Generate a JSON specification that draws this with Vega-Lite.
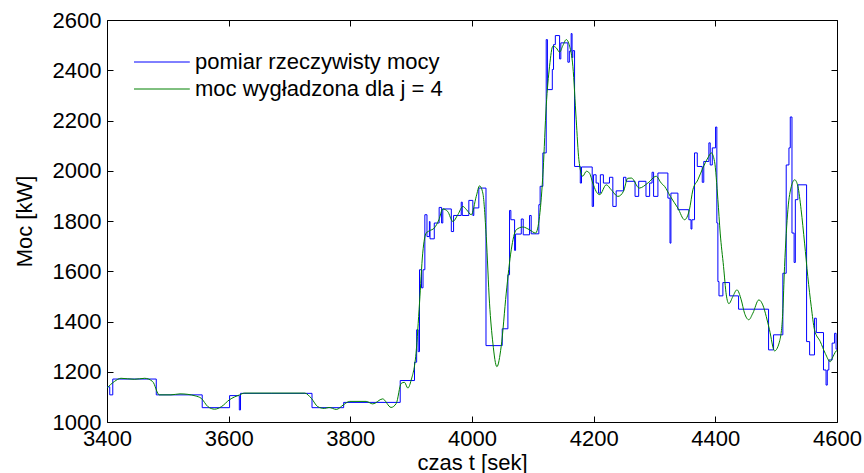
{
  "$schema": "https://vega.github.io/schema/vega-lite/v6.json",
  "width": 730,
  "height": 402,
  "autosize": "none",
  "padding": {"left": 107, "top": 20, "right": 27, "bottom": 51},
  "background": "white",
  "config": {
    "font": "Liberation Sans",
    "view": {"stroke": "black", "strokeWidth": 1},
    "axis": {
      "domain": false,
      "grid": false,
      "tickColor": "black",
      "tickSize": -6,
      "labelColor": "black",
      "labelFont": "Liberation Sans",
      "labelFontSize": 22,
      "labelFlush": false,
      "format": "d",
      "titleFont": "Liberation Sans",
      "titleFontSize": 22,
      "titleFontWeight": "normal",
      "titleColor": "black"
    },
    "legend": {
      "labelFont": "Liberation Sans",
      "labelFontSize": 22,
      "labelColor": "black",
      "labelLimit": 0
    }
  },
  "datasets": {
    "pomiar": [
      {"t": 3400, "P": 1140}, {"t": 3404.5, "P": 1108}, {"t": 3409.5, "P": 1171}, {"t": 3481, "P": 1108},
      {"t": 3556.5, "P": 1057}, {"t": 3601.5, "P": 1105}, {"t": 3617.5, "P": 1048}, {"t": 3619.5, "P": 1114},
      {"t": 3737, "P": 1057}, {"t": 3789, "P": 1078}, {"t": 3882, "P": 1165}, {"t": 3905.5, "P": 1238},
      {"t": 3909, "P": 1367}, {"t": 3911.5, "P": 1280}, {"t": 3913.7, "P": 1606}, {"t": 3917, "P": 1534},
      {"t": 3919.5, "P": 1606}, {"t": 3922.5, "P": 1825}, {"t": 3926, "P": 1738}, {"t": 3930, "P": 1798},
      {"t": 3931, "P": 1729}, {"t": 3938, "P": 1792}, {"t": 3946, "P": 1854}, {"t": 3950, "P": 1792},
      {"t": 3952, "P": 1848}, {"t": 3966, "P": 1758}, {"t": 3969.7, "P": 1822}, {"t": 3982.3, "P": 1875},
      {"t": 3984, "P": 1822}, {"t": 3994.8, "P": 1882}, {"t": 4001.4, "P": 1822}, {"t": 4003, "P": 1852},
      {"t": 4011.2, "P": 1931}, {"t": 4023, "P": 1304}, {"t": 4049.7, "P": 1371}, {"t": 4059, "P": 1586},
      {"t": 4061.7, "P": 1842}, {"t": 4063.9, "P": 1805}, {"t": 4070, "P": 1683}, {"t": 4071.6, "P": 1748},
      {"t": 4081, "P": 1808}, {"t": 4084.2, "P": 1745}, {"t": 4094.6, "P": 1822}, {"t": 4097.3, "P": 1749},
      {"t": 4109.9, "P": 1865}, {"t": 4112, "P": 1938}, {"t": 4116.5, "P": 2071}, {"t": 4122, "P": 2522},
      {"t": 4124, "P": 2323}, {"t": 4132, "P": 2403}, {"t": 4134, "P": 2502}, {"t": 4137, "P": 2538},
      {"t": 4144, "P": 2445}, {"t": 4146, "P": 2509}, {"t": 4157.6, "P": 2432}, {"t": 4160, "P": 2476},
      {"t": 4163, "P": 2546}, {"t": 4164.5, "P": 2450}, {"t": 4165.7, "P": 2478}, {"t": 4168.6, "P": 2017},
      {"t": 4178, "P": 1951}, {"t": 4180, "P": 2015}, {"t": 4197.6, "P": 1858}, {"t": 4199.8, "P": 1984},
      {"t": 4204, "P": 1951}, {"t": 4208, "P": 1911}, {"t": 4211, "P": 1984}, {"t": 4216, "P": 1951},
      {"t": 4226, "P": 1974}, {"t": 4231.5, "P": 1858}, {"t": 4237, "P": 1920}, {"t": 4249, "P": 1974},
      {"t": 4253, "P": 1958}, {"t": 4268, "P": 1898}, {"t": 4274, "P": 1958}, {"t": 4286, "P": 1898},
      {"t": 4292, "P": 1951}, {"t": 4296, "P": 1994}, {"t": 4298.5, "P": 1898}, {"t": 4305.6, "P": 1991},
      {"t": 4322, "P": 1891}, {"t": 4325.5, "P": 1712}, {"t": 4327, "P": 1911}, {"t": 4338.5, "P": 1845},
      {"t": 4356.5, "P": 1805}, {"t": 4360, "P": 1768}, {"t": 4361.5, "P": 1805}, {"t": 4365.8, "P": 2071},
      {"t": 4370.3, "P": 2017}, {"t": 4378.5, "P": 1954}, {"t": 4381, "P": 2037}, {"t": 4389.4, "P": 2111},
      {"t": 4391.6, "P": 2023}, {"t": 4395, "P": 2091}, {"t": 4400.4, "P": 2174}, {"t": 4402.5, "P": 1792},
      {"t": 4404.2, "P": 1559}, {"t": 4406, "P": 1502}, {"t": 4412.4, "P": 1555}, {"t": 4423.4, "P": 1502},
      {"t": 4438.2, "P": 1449}, {"t": 4487.5, "P": 1287}, {"t": 4495.7, "P": 1347}, {"t": 4511, "P": 1592},
      {"t": 4516.5, "P": 2023}, {"t": 4521, "P": 2091}, {"t": 4523.2, "P": 2214}, {"t": 4526, "P": 1752},
      {"t": 4529.5, "P": 1635}, {"t": 4531.5, "P": 1885}, {"t": 4535.7, "P": 1944}, {"t": 4550, "P": 1320},
      {"t": 4555, "P": 1267}, {"t": 4563, "P": 1413}, {"t": 4566, "P": 1356}, {"t": 4577.8, "P": 1207},
      {"t": 4582, "P": 1147}, {"t": 4584, "P": 1207}, {"t": 4586.6, "P": 1247}, {"t": 4592, "P": 1314},
      {"t": 4596, "P": 1353}, {"t": 4598.5, "P": 1290}, {"t": 4600, "P": 1290}
    ],
    "wygladzona": [
      {"t": 3400, "P": 1135}, {"t": 3412, "P": 1161}, {"t": 3423, "P": 1174}, {"t": 3445, "P": 1170},
      {"t": 3462, "P": 1174}, {"t": 3475, "P": 1161}, {"t": 3486, "P": 1108}, {"t": 3505, "P": 1108},
      {"t": 3520, "P": 1112}, {"t": 3533, "P": 1110}, {"t": 3545, "P": 1104}, {"t": 3555, "P": 1094},
      {"t": 3566, "P": 1061}, {"t": 3577, "P": 1051}, {"t": 3588, "P": 1061}, {"t": 3601, "P": 1088},
      {"t": 3618, "P": 1108}, {"t": 3626, "P": 1115}, {"t": 3670, "P": 1115}, {"t": 3725, "P": 1115},
      {"t": 3736, "P": 1094}, {"t": 3746.5, "P": 1061}, {"t": 3757.5, "P": 1054}, {"t": 3765, "P": 1058},
      {"t": 3777, "P": 1050}, {"t": 3789, "P": 1069}, {"t": 3799, "P": 1082}, {"t": 3826, "P": 1082},
      {"t": 3837, "P": 1072}, {"t": 3853, "P": 1092}, {"t": 3867, "P": 1058}, {"t": 3875.5, "P": 1074},
      {"t": 3883.7, "P": 1154}, {"t": 3889, "P": 1158}, {"t": 3894.5, "P": 1135}, {"t": 3900, "P": 1167},
      {"t": 3908, "P": 1274}, {"t": 3913.7, "P": 1473}, {"t": 3919, "P": 1672}, {"t": 3924.7, "P": 1752},
      {"t": 3930, "P": 1761}, {"t": 3938, "P": 1772}, {"t": 3945.6, "P": 1805}, {"t": 3952, "P": 1848},
      {"t": 3960, "P": 1838}, {"t": 3968.5, "P": 1798}, {"t": 3976.7, "P": 1825}, {"t": 3985, "P": 1858},
      {"t": 3991, "P": 1845}, {"t": 3998.8, "P": 1825}, {"t": 4007, "P": 1898}, {"t": 4012.4, "P": 1940},
      {"t": 4017.8, "P": 1911}, {"t": 4023.4, "P": 1738}, {"t": 4028.8, "P": 1473}, {"t": 4034.3, "P": 1314},
      {"t": 4040.9, "P": 1220}, {"t": 4048, "P": 1301}, {"t": 4056.3, "P": 1513}, {"t": 4064.5, "P": 1685},
      {"t": 4072.7, "P": 1765}, {"t": 4083.6, "P": 1776}, {"t": 4094.6, "P": 1765}, {"t": 4104.5, "P": 1752},
      {"t": 4111, "P": 1818}, {"t": 4117, "P": 2004}, {"t": 4122, "P": 2257}, {"t": 4127.5, "P": 2416},
      {"t": 4133, "P": 2496}, {"t": 4138.5, "P": 2489}, {"t": 4144, "P": 2472}, {"t": 4149.3, "P": 2498},
      {"t": 4155, "P": 2522}, {"t": 4160.4, "P": 2496}, {"t": 4165.8, "P": 2416}, {"t": 4171.3, "P": 2203},
      {"t": 4175.7, "P": 2044}, {"t": 4182, "P": 1978}, {"t": 4188, "P": 1998}, {"t": 4193, "P": 1991},
      {"t": 4198.6, "P": 1951}, {"t": 4204, "P": 1918}, {"t": 4210, "P": 1905}, {"t": 4220.7, "P": 1944},
      {"t": 4229, "P": 1924}, {"t": 4240, "P": 1898}, {"t": 4249, "P": 1918}, {"t": 4256, "P": 1970},
      {"t": 4262, "P": 1971}, {"t": 4275, "P": 1931}, {"t": 4289, "P": 1951}, {"t": 4302.8, "P": 1978},
      {"t": 4311, "P": 1951}, {"t": 4316.5, "P": 1938}, {"t": 4326, "P": 1898}, {"t": 4338.5, "P": 1851},
      {"t": 4349.4, "P": 1805}, {"t": 4357.4, "P": 1845}, {"t": 4363.1, "P": 1924}, {"t": 4371.3, "P": 1964},
      {"t": 4379.5, "P": 2011}, {"t": 4387.7, "P": 2051}, {"t": 4393.3, "P": 2071}, {"t": 4398.7, "P": 2037},
      {"t": 4404.2, "P": 1885}, {"t": 4408, "P": 1752}, {"t": 4413.5, "P": 1619}, {"t": 4418, "P": 1506},
      {"t": 4422.3, "P": 1471}, {"t": 4428.9, "P": 1500}, {"t": 4435.5, "P": 1526}, {"t": 4442.6, "P": 1486},
      {"t": 4448, "P": 1433}, {"t": 4455, "P": 1407}, {"t": 4461.7, "P": 1433}, {"t": 4471.5, "P": 1486},
      {"t": 4478, "P": 1466}, {"t": 4483.7, "P": 1420}, {"t": 4489, "P": 1367}, {"t": 4497.4, "P": 1283},
      {"t": 4506, "P": 1325}, {"t": 4510.8, "P": 1433}, {"t": 4513.8, "P": 1619}, {"t": 4519.3, "P": 1845},
      {"t": 4525, "P": 1938}, {"t": 4530.5, "P": 1964}, {"t": 4535.7, "P": 1938}, {"t": 4541, "P": 1845},
      {"t": 4546.7, "P": 1712}, {"t": 4552, "P": 1579}, {"t": 4557.7, "P": 1459}, {"t": 4563, "P": 1367},
      {"t": 4572.5, "P": 1320}, {"t": 4580.7, "P": 1273}, {"t": 4589, "P": 1240}, {"t": 4592, "P": 1253},
      {"t": 4598.8, "P": 1283}, {"t": 4600, "P": 1285}
    ]
  },
  "layer": [
    {
      "data": {"name": "pomiar"},
      "mark": {"type": "line", "interpolate": "step-after", "strokeWidth": 1, "clip": true},
      "encoding": {
        "x": {
          "field": "t", "type": "quantitative",
          "scale": {"domain": [3400, 4600], "nice": false, "zero": false},
          "axis": {"orient": "bottom", "values": [3400, 3600, 3800, 4000, 4200, 4400, 4600], "title": "czas t [sek]", "labelPadding": 12, "titlePadding": 3}
        },
        "y": {
          "field": "P", "type": "quantitative",
          "scale": {"domain": [1000, 2600], "nice": false, "zero": false},
          "axis": {"orient": "left", "values": [1000, 1200, 1400, 1600, 1800, 2000, 2200, 2400, 2600], "title": "Moc [kW]", "labelPadding": 12, "titlePadding": 16}
        },
        "color": {
          "datum": "pomiar rzeczywisty  mocy", "type": "nominal",
          "scale": {"domain": ["pomiar rzeczywisty  mocy", "moc wygładzona dla j = 4"], "range": ["#0000ff", "#008000"]},
          "legend": {
            "orient": "none", "legendX": 46, "legendY": 31, "title": null,
            "symbolType": "M-5,0H4.3", "symbolSize": 144, "symbolStrokeWidth": 1,
            "labelOffset": 20, "rowPadding": 5, "padding": 0
          }
        }
      }
    },
    {
      "data": {"name": "wygladzona"},
      "mark": {"type": "line", "interpolate": "monotone", "strokeWidth": 1, "clip": true},
      "encoding": {
        "x": {
          "field": "t", "type": "quantitative",
          "scale": {"domain": [3400, 4600], "nice": false, "zero": false},
          "axis": {"orient": "top", "values": [3400, 3600, 3800, 4000, 4200, 4400, 4600], "labels": false, "title": null}
        },
        "y": {
          "field": "P", "type": "quantitative",
          "scale": {"domain": [1000, 2600], "nice": false, "zero": false},
          "axis": {"orient": "right", "values": [1000, 1200, 1400, 1600, 1800, 2000, 2200, 2400, 2600], "labels": false, "title": null}
        },
        "color": {"datum": "moc wygładzona dla j = 4", "type": "nominal"}
      }
    }
  ],
  "resolve": {"axis": {"x": "independent", "y": "independent"}}
}
